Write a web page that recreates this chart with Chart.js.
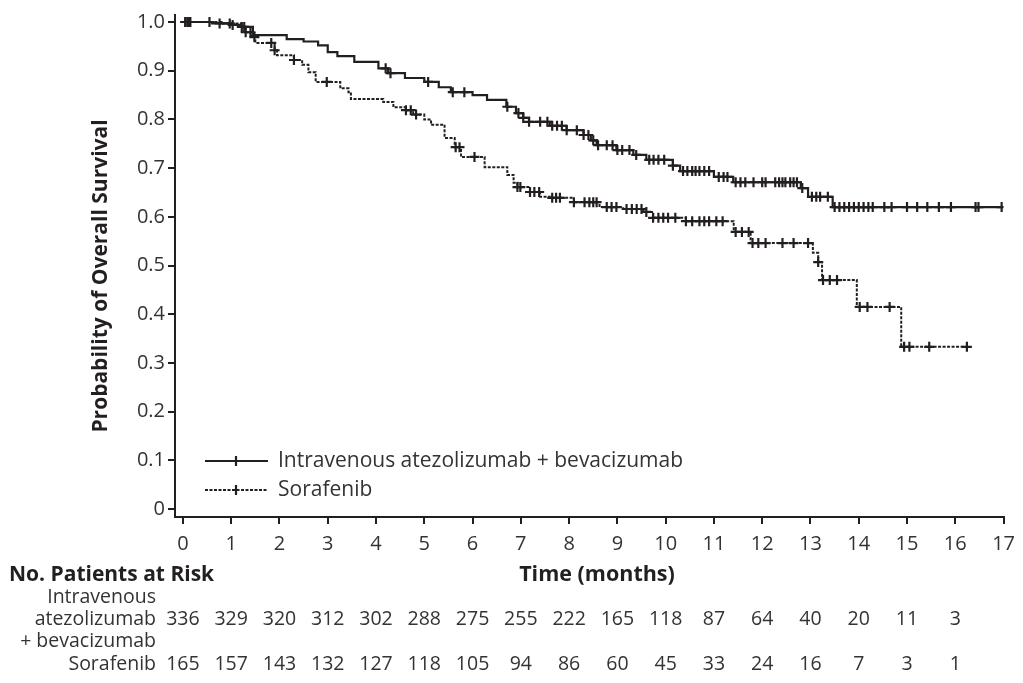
<!DOCTYPE html>
<html><head><meta charset="utf-8">
<script src="https://cdn.jsdelivr.net/npm/chart.js@4.4.0/dist/chart.umd.min.js"></script>
<style>html,body{margin:0;padding:0;background:#fff}#wrap{width:1023px;height:683px;position:relative}</style>
</head><body><div id="wrap"><canvas id="c" width="1023" height="683"></canvas></div>
<script>
// ---- data ----
const xTicks = [0,1,2,3,4,5,6,7,8,9,10,11,12,13,14,15,16,17];
const yTicks = [0,0.1,0.2,0.3,0.4,0.5,0.6,0.7,0.8,0.9,1.0];
const yTickLabels = ['0','0.1','0.2','0.3','0.4','0.5','0.6','0.7','0.8','0.9','1.0'];

const atezoTime = [0,0.6,1.0,1.2,1.45,2.15,2.5,2.8,3.0,3.2,3.55,4.05,4.25,4.6,5.0,5.3,5.55,6.0,6.3,6.7,6.9,7.05,7.17,7.6,7.95,8.3,8.45,8.57,8.98,9.33,9.6,10.15,10.3,11.0,11.4,12.8,12.95,13.46,16.96];
const atezoSurv = [1.0,0.997,0.994,0.99,0.973,0.965,0.96,0.952,0.938,0.93,0.918,0.905,0.895,0.885,0.877,0.866,0.856,0.85,0.84,0.826,0.813,0.803,0.795,0.787,0.778,0.768,0.757,0.747,0.737,0.727,0.717,0.705,0.694,0.682,0.671,0.659,0.641,0.62,0.62];
const atezoCensor = [0.05,0.1,0.15,0.55,0.76,0.97,1.03,1.27,4.2,4.3,5.08,5.59,5.83,6.72,6.95,7.05,7.17,7.4,7.55,7.65,7.75,7.85,7.95,8.16,8.3,8.4,8.5,8.6,8.78,8.9,9.0,9.1,9.25,9.39,9.66,9.75,9.85,9.97,10.15,10.36,10.45,10.55,10.62,10.7,10.8,10.9,11.1,11.2,11.28,11.45,11.55,11.65,11.82,12.0,12.07,12.27,12.35,12.42,12.48,12.58,12.65,12.72,12.83,13.03,13.12,13.2,13.36,13.5,13.6,13.7,13.8,13.9,14.0,14.1,14.2,14.29,14.53,14.68,15.0,15.21,15.42,15.66,15.91,16.42,16.48,16.96];

const sorafTime = [0,0.8,1.2,1.3,1.42,1.5,1.9,1.95,2.3,2.47,2.6,2.75,3.26,3.43,3.48,4.15,4.36,4.62,4.77,5.0,5.14,5.42,5.63,5.76,6.25,6.72,6.85,6.93,7.19,7.4,7.6,8.1,8.63,9.12,9.54,9.74,10.42,11.41,11.76,13.05,13.16,13.24,13.96,14.88,16.28];
const sorafSurv = [1.0,0.997,0.99,0.979,0.969,0.957,0.942,0.932,0.922,0.912,0.897,0.877,0.864,0.856,0.842,0.836,0.825,0.819,0.81,0.8,0.789,0.762,0.743,0.723,0.702,0.686,0.67,0.661,0.651,0.641,0.639,0.63,0.62,0.616,0.61,0.598,0.591,0.569,0.546,0.526,0.507,0.47,0.415,0.333,0.333];
const sorafCensor = [0.05,0.1,0.15,1.22,1.3,1.4,1.48,1.83,1.9,2.3,2.98,4.62,4.72,4.83,5.65,5.73,6.04,6.93,6.99,7.19,7.28,7.38,7.65,7.73,7.81,8.1,8.32,8.42,8.5,8.57,8.78,8.88,8.98,9.19,9.3,9.4,9.5,9.6,9.74,9.85,9.95,10.05,10.2,10.42,10.55,10.7,10.8,10.9,11.05,11.18,11.45,11.58,11.72,11.8,11.92,12.07,12.42,12.65,12.95,13.16,13.26,13.4,13.55,14.02,14.18,14.64,14.94,15.05,15.46,16.24];

const riskAtezo = [336,329,320,312,302,288,275,255,222,165,118,87,64,40,20,11,3];
const riskSoraf = [165,157,143,132,127,118,105,94,86,60,45,33,24,16,7,3,1];
const seriesNames = ['Intravenous atezolizumab + bevacizumab','Sorafenib'];
const riskLabelsAtezo = ['Intravenous','atezolizumab','+ bevacizumab'];
const riskLabelSoraf = 'Sorafenib';

// ---- helpers ----
const INK = '#231f20';
const FONT = '"Open Sans", "Noto Sans", sans-serif';
function survAt(times, surv, t){ let s = surv[0]; for (let i=0;i<times.length;i++){ if (times[i] <= t) s = surv[i]; } return s; }
const pts = (ts, ss) => ts.map((t,i)=>({x:t, y:ss[i]}));
const cens = (cs, ts, ss) => cs.map(t=>({x:t, y:survAt(ts, ss, t)}));

const annot = {
  id:'annot',
  afterDraw(chart){
    const ctx = chart.ctx, xs = chart.scales.x;
    ctx.save();
    ctx.fillStyle = INK;
    // y title
    ctx.save();
    ctx.translate(101, 276);
    ctx.rotate(-Math.PI/2);
    ctx.font = 'bold 21px ' + FONT;
    ctx.textAlign = 'center'; ctx.textBaseline = 'middle';
    ctx.fillText('Probability of Overall Survival', 0, 0);
    ctx.restore();
    // x title
    ctx.font = 'bold 21.5px ' + FONT;
    ctx.textAlign = 'center'; ctx.textBaseline = 'middle';
    ctx.fillText('Time (months)', 597, 575);
    ctx.font = 'bold 21px ' + FONT;
    ctx.textAlign = 'left';
    ctx.fillText('No. Patients at Risk', 9, 575);
    // risk table
    ctx.font = '19.5px ' + FONT;
    ctx.fillStyle = '#333';
    ctx.textAlign = 'right';
    ctx.fillText(riskLabelsAtezo[0], 156, 597);
    ctx.fillText(riskLabelsAtezo[1], 156, 619);
    ctx.fillText(riskLabelsAtezo[2], 156, 641);
    ctx.fillText(riskLabelSoraf, 156, 664);
    ctx.textAlign = 'center';
    riskAtezo.forEach((v,i)=> ctx.fillText(String(v), xs.getPixelForValue(xTicks[i]), 619));
    riskSoraf.forEach((v,i)=> ctx.fillText(String(v), xs.getPixelForValue(xTicks[i]), 664));
    // legend
    const lg = [{y:461, dash:[]},{y:490, dash:[3,1.5]}];
    lg.forEach((l,i)=>{
      ctx.strokeStyle = INK; ctx.lineWidth = 2; ctx.setLineDash(l.dash);
      ctx.beginPath(); ctx.moveTo(205, l.y); ctx.lineTo(268, l.y); ctx.stroke();
      ctx.setLineDash([]);
      ctx.lineWidth = 2.2;
      ctx.beginPath(); ctx.moveTo(236, l.y-5); ctx.lineTo(236, l.y+5); ctx.stroke();
      ctx.fillStyle = '#333'; ctx.textAlign = 'left'; ctx.textBaseline = 'middle';
      ctx.font = '21px ' + FONT;
      ctx.fillText(seriesNames[i], 278, l.y);
    });
    ctx.restore();
  }
};

const censorStyle = {type:'line', showLine:false, pointStyle:'cross', pointRadius:5, pointHoverRadius:5, pointBorderWidth:2.2, borderColor:INK, backgroundColor:INK};

new Chart(document.getElementById('c'), {
  type:'line',
  data:{ datasets:[
    {label:seriesNames[0], data:pts(atezoTime, atezoSurv), stepped:'before', borderColor:INK, borderWidth:2.2, pointRadius:0, fill:false},
    {label:seriesNames[1], data:pts(sorafTime, sorafSurv), stepped:'before', borderColor:INK, borderWidth:2, borderDash:[3,1.5], pointRadius:0, fill:false},
    Object.assign({label:seriesNames[0]+' censored', data:cens(atezoCensor, atezoTime, atezoSurv)}, censorStyle),
    Object.assign({label:seriesNames[1]+' censored', data:cens(sorafCensor, sorafTime, sorafSurv)}, censorStyle)
  ]},
  options:{
    responsive:false, animation:false, devicePixelRatio:1,
    layout:{padding:{top:15, right:13, left:0, bottom:0}},
    plugins:{legend:{display:false}, tooltip:{enabled:false}},
    scales:{
      x:{type:'linear', min:-0.164, max:17,
        afterFit:s=>{s.height=166;},
        afterBuildTicks:s=>{s.ticks = xTicks.map(v=>({value:v}));},
        ticks:{autoSkip:false, maxRotation:0, padding:8, color:'#333', font:{family:FONT, size:20}, callback:v=>String(v)},
        grid:{drawOnChartArea:false, drawTicks:true, tickLength:7, color:INK, lineWidth:2},
        border:{display:true, color:INK, width:2}
      },
      y:{type:'linear', min:-0.0164, max:1.0144,
        afterFit:s=>{s.width=175;},
        afterBuildTicks:s=>{s.ticks = yTicks.map(v=>({value:v}));},
        ticks:{autoSkip:false, padding:3, color:'#333', font:{family:FONT, size:20}, callback:(v,i)=>yTickLabels[i]},
        grid:{drawOnChartArea:false, drawTicks:true, tickLength:7, color:INK, lineWidth:2},
        border:{display:true, color:INK, width:2}
      }
    }
  },
  plugins:[annot]
});
</script></body></html>
